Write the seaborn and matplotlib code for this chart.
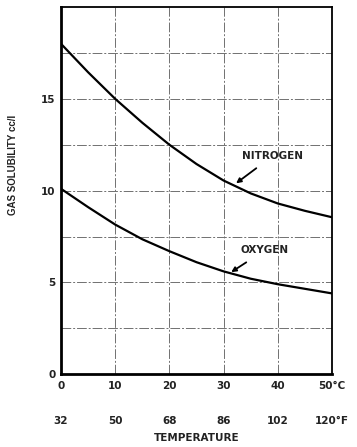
import matplotlib
matplotlib.use("Agg")
import pandas as pd
import seaborn as sns
from matplotlib import pyplot as plt

sns.set_style("white")
plt.rcParams['font.family'] = ['DejaVu Sans']

# values (every 5 degC)
temp_c = [0, 5, 10, 15, 20, 25, 30, 35, 40, 45, 50]
nitrogen = [18.0, 16.45, 15.0, 13.7, 12.5, 11.45, 10.55, 9.85, 9.3, 8.9, 8.55]
oxygen = [10.1, 9.1, 8.15, 7.35, 6.7, 6.1, 5.6, 5.2, 4.9, 4.65, 4.4]

c_ticks = [0, 10, 20, 30, 40, 50]
c_labels = ["0", "10", "20", "30", "40", "50°C"]
f_labels = ["32", "50", "68", "86", "102", "120°F"]
y_ticks = [0, 2.5, 5, 7.5, 10, 12.5, 15, 17.5]
y_labels = ["0", "", "5", "", "10", "", "15", ""]

df = pd.DataFrame({"temp": temp_c * 2,
                   "sol": nitrogen + oxygen,
                   "gas": ["NITROGEN"] * len(temp_c) + ["OXYGEN"] * len(temp_c)})

fig = plt.figure(figsize=(3.57, 4.47), dpi=100)
ax = fig.add_axes([0.171, 0.163, 0.759, 0.821])

txt = dict(fontsize=7.5, fontweight="bold", color="#222222")

sns.lineplot(data=df, x="temp", y="sol", units="gas", estimator=None,
             color="black", linewidth=1.6, ax=ax, legend=False,
             solid_joinstyle="round")

ax.set_xlim(0, 50)
ax.set_ylim(0, 20)
ax.set_xticks(c_ticks)
ax.set_xticklabels(c_labels, **txt)
ax.set_yticks(y_ticks)
ax.set_yticklabels(y_labels, **txt)
ax.tick_params(axis="x", length=0, pad=5)
ax.tick_params(axis="y", length=0, pad=4)
ax.grid(True, color="#707070", linestyle=(0, (10, 2, 2, 2)), linewidth=0.7)

for side in ["left", "bottom"]:
    ax.spines[side].set_linewidth(2.0)
for side in ["top", "right"]:
    ax.spines[side].set_linewidth(1.3)
for s in ax.spines.values():
    s.set_color("black")

ax.set_xlabel("")
ax.set_ylabel("GAS SOLUBILITY cc/l", fontsize=7, fontweight="bold",
              color="#222222", family="Liberation Sans")
ax.yaxis.set_label_coords(-0.16, 0.57)

# fahrenheit scale under the celsius one
sec = ax.secondary_xaxis(-0.115)
sec.set_xticks(c_ticks)
sec.set_xticklabels(f_labels, **txt)
sec.tick_params(length=0, pad=0)
sec.spines["bottom"].set_visible(False)
sec.set_xlabel("TEMPERATURE", labelpad=5, **txt)

ax.annotate("NITROGEN", xy=(32.3, 10.4), xytext=(39.1, 11.9),
            ha="center", va="center", **txt,
            arrowprops=dict(arrowstyle="-|>", color="black", lw=1.3,
                            shrinkA=5, shrinkB=0, mutation_scale=7))
ax.annotate("OXYGEN", xy=(31.4, 5.56), xytext=(37.6, 6.75),
            ha="center", va="center", **txt,
            arrowprops=dict(arrowstyle="-|>", color="black", lw=1.3,
                            shrinkA=5, shrinkB=0, mutation_scale=7))

fig.savefig("out.png", dpi=100)
